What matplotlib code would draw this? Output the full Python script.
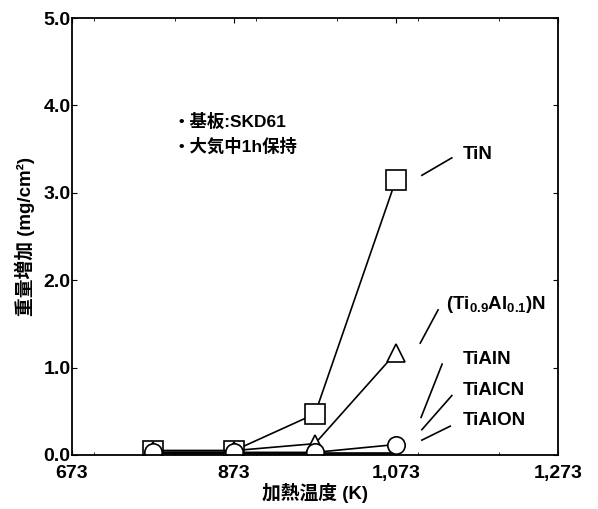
import matplotlib.pyplot as plt
from matplotlib.ticker import MultipleLocator, FuncFormatter

plt.rcParams['font.family'] = ['Liberation Sans', 'Noto Sans CJK JP']
plt.rcParams['font.weight'] = 'bold'
plt.rcParams['mathtext.fontset'] = 'custom'
plt.rcParams['mathtext.rm'] = 'Liberation Sans:bold'
plt.rcParams['mathtext.it'] = 'Liberation Sans:bold'
plt.rcParams['mathtext.bf'] = 'Liberation Sans:bold'

# heating temperature (K) and weight gain (mg/cm2)
temps = [773, 873, 973, 1073]
tin = [0.05, 0.05, 0.47, 3.15]
tial01 = [0.05, 0.05, 0.13, 1.17]
tialn = [0.01, 0.01, 0.01, 0.01]
tialcn = [0.02, 0.02, 0.02, 0.02]
tialon = [0.03, 0.03, 0.03, 0.12]

xticks = [673, 873, 1073, 1273]
yticks = [0.0, 1.0, 2.0, 3.0, 4.0, 5.0]

fig = plt.figure(figsize=(5.98, 5.09), dpi=100)
ax = fig.add_axes([0.1204, 0.1061, 0.8126, 0.8585])

mk = dict(color='black', lw=1.2, mfc='white', mec='black', mew=1.2)
ax.plot(temps, tialn, **mk)
ax.plot(temps, tialcn, **mk)
ax.plot(temps, tin, marker='s', ms=14, **mk)
ax.plot(temps, tial01, marker='^', ms=13.5, **mk)
ax.plot(temps, tialon, marker='o', ms=12.5, **mk)

# labels with leader lines
labels = [
    ('TiN', (1105, 3.20), (1142, 3.40), (1155, 3.44)),
    ('(Ti$_{0.9}$Al$_{0.1}$)N', (1103, 1.28), (1125, 1.66), (1135, 1.72)),
    ('TiAlN', (1104, 0.43), (1130, 1.04), (1155, 1.09)),
    ('TiAlCN', (1105, 0.29), (1142, 0.68), (1155, 0.74)),
    ('TiAlON', (1105, 0.17), (1140, 0.33), (1155, 0.40)),
]
for text, p0, p1, pt in labels:
    ax.plot([p0[0], p1[0]], [p0[1], p1[1]], color='black', lw=1.2)
    ax.text(pt[0], pt[1], text, fontsize=13.5, fontweight='bold',
            ha='left', va='center')

ax.text(797, 3.82, '・基板:SKD61', fontsize=12.5, fontweight='bold', va='center')
ax.text(797, 3.53, '・大気中1h保持', fontsize=12.5, fontweight='bold', va='center')

ax.set_xlim(673, 1273)
ax.set_ylim(0, 5.0)
ax.set_xticks(xticks)
ax.xaxis.set_minor_locator(MultipleLocator(100))
ax.set_yticks(yticks)
ax.xaxis.set_major_formatter(FuncFormatter(lambda v, p: f'{int(v):,}'))
ax.yaxis.set_major_formatter(FuncFormatter(lambda v, p: f'{v:.1f}'))
ax.tick_params(direction='in', which='both', top=True, right=True, labelsize=14)
ax.tick_params(axis='y', pad=1)
ax.tick_params(axis='x', pad=7)
for lab in ax.get_xticklabels() + ax.get_yticklabels():
    lab.set_fontweight('bold')
for s in ax.spines.values():
    s.set_linewidth(1.3)

ax.set_xlabel('加熱温度 (K)', fontsize=13.5, fontweight='bold', labelpad=1)
ax.set_ylabel('重量増加 (mg/cm²)', fontsize=13.5, fontweight='bold', labelpad=6)

fig.savefig('out.png', dpi=100)
